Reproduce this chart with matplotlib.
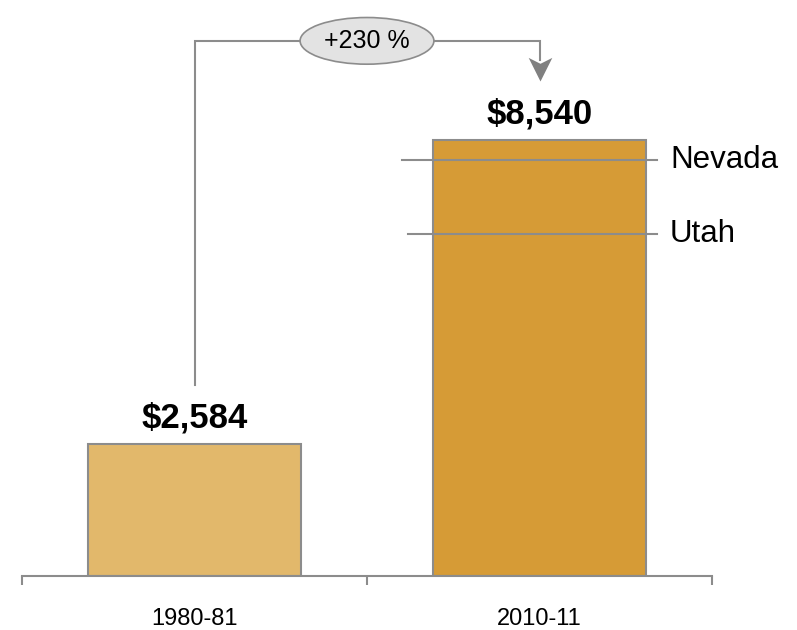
import matplotlib
matplotlib.use("Agg")
import matplotlib.pyplot as plt
from matplotlib.path import Path

# Data
periods = ["1980-81", "2010-11"]
values = [2584, 8540]
value_labels = ["$2,584", "$8,540"]
states = ["Nevada", "Utah"]
state_values = [8150, 6700]
change_label = "+230 %"

plt.rcParams["font.family"] = ["Liberation Sans", "DejaVu Sans"]

fig = plt.figure(figsize=(7.97, 6.30), dpi=100)
ax = fig.add_axes([22 / 797, 54 / 630, 690 / 797, 576 / 630])

bar_colors = ["#E2B86B", "#D69B36"]
edge = "#8c8c8c"
x = list(range(len(periods)))
ax.bar(x, values, width=0.62, color=bar_colors, edgecolor=edge, linewidth=1.5, zorder=2)

ax.set_xlim(-0.5, 1.5)
ax.set_ylim(0, 11280)

# Axis styling: only the baseline with separator ticks
for s in ["top", "left", "right"]:
    ax.spines[s].set_visible(False)
ax.spines["bottom"].set_color(edge)
ax.spines["bottom"].set_linewidth(1.5)
ax.set_yticks([])
ax.set_xticks([-0.5, 0.5, 1.5])
ax.set_xticklabels([])
ax.tick_params(axis="x", which="major", length=6.5, width=1.5, color=edge, direction="out")
ax.set_xticks(x, minor=True)
ax.set_xticklabels(periods, minor=True)
ax.tick_params(axis="x", which="minor", length=0, pad=23, labelsize=17)

# Value labels above bars
for xi, v, lab in zip(x, values, value_labels):
    ax.annotate(lab, (xi, v), xytext=(0, 7), textcoords="offset points",
                ha="center", va="bottom", fontsize=25, fontweight="bold")

# State reference lines across the 2010-11 bar
line_starts = [0.601, 0.619]
for st, sv, x0 in zip(states, state_values, line_starts):
    ax.plot([x0, 1.341], [sv, sv], color=edge, linewidth=1.5, zorder=3)
    ax.text(1.378, sv, st, ha="left", va="center", fontsize=22.5)

# Growth connector from the first bar to the second
top_y = 10480
arrow_tip = 9690
ax.plot([0, 0, 1, 1], [3740, top_y, top_y, 10100], color=edge, linewidth=1.5,
        solid_joinstyle="miter", zorder=1)
# notched arrowhead, tip at the path origin
head = Path([(0, 0), (-12, 24), (0, 18), (12, 24), (0, 0)],
            [Path.MOVETO, Path.LINETO, Path.LINETO, Path.LINETO, Path.CLOSEPOLY])
ax.plot([1], [arrow_tip], marker=head, markersize=34, color="#808080",
        markeredgewidth=0, zorder=2)
ax.text(0.5, top_y, change_label, ha="center", va="center", fontsize=18,
        bbox=dict(boxstyle="ellipse,pad=0.18", fc="#E3E3E3", ec=edge, lw=1.2),
        zorder=4)

fig.savefig("out.png", dpi=100)
